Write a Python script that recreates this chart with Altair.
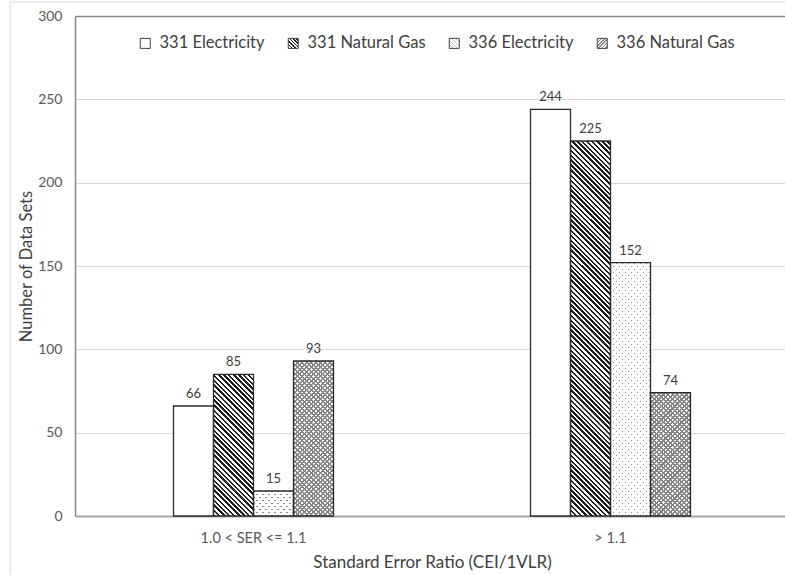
import json
import altair as alt
import pandas as pd

# ---------------- data ----------------
categories = ["1.0 < SER <= 1.1", "> 1.1"]
series = ["331 Electricity", "331 Natural Gas", "336 Electricity", "336 Natural Gas"]
elec_331 = [66, 244]
gas_331 = [85, 225]
elec_336 = [15, 152]
gas_336 = [93, 74]
y_ticks = [0, 50, 100, 150, 200, 250, 300]

series_values = dict(zip(series, [elec_331, gas_331, elec_336, gas_336]))

# ---------------- layout / style ----------------
FONT = "Lato"
TEXT = "#404040"
PLOT_LEFT, PLOT_TOP = 75, 16
PLOT_W_FULL = 714
VIEW_W = 785 - PLOT_LEFT
PLOT_H = 500
Y_MAX = 300
BAND = PLOT_W_FULL / len(categories)
BAR_W = 40
GROUP_W = BAR_W * len(series)
OFF_START = (BAND - GROUP_W) / 2

rows = []
for s in series:
    for c, v in zip(categories, series_values[s]):
        rows.append({"category": c, "series": s, "value": v})
df = pd.DataFrame(rows)


def stripe_spec(w, h, direction, period, frac, c_on, c_off):
    """Linear gradient (bbox units) drawing 45-degree stripes."""
    n = (w + h) / period
    s = (w + h) / (w * w + h * h)
    if direction == "back":  # lines like '\'
        x1, y1, x2, y2 = 0, 1, s * w, 1 - s * h
    else:  # lines like '/'
        x1, y1, x2, y2 = 0, 0, s * w, s * h
    stops = []
    k = 0
    while k / n < 1:
        a = k / n
        b = min((k + frac) / n, 1)
        c = min((k + 1) / n, 1)
        stops += [(a, c_on), (b, c_on), (b, c_off), (c, c_off)]
        k += 1
    return {
        "gradient": "linear",
        "x1": round(x1, 6), "y1": round(y1, 6), "x2": round(x2, 6), "y2": round(y2, 6),
        "stops": [{"offset": round(o, 5), "color": col} for o, col in stops],
    }


def to_grad(spec):
    return alt.LinearGradient(
        gradient="linear",
        x1=spec["x1"], y1=spec["y1"], x2=spec["x2"], y2=spec["y2"],
        stops=[alt.GradientStop(offset=st["offset"], color=st["color"]) for st in spec["stops"]],
    )


CLEAR = "rgba(255,255,255,0)"
HATCH = "#1e1e1e"
DOT = "#8a8a8a"
CROSS = "#858585"


def fills_for(s, w, h):
    """List of fill layers (bottom to top) for a bar of a given series."""
    if s == "331 Electricity":
        return ["#ffffff"]
    if s == "331 Natural Gas":
        return [to_grad(stripe_spec(w, h, "back", 5.0, 0.5, HATCH, "#ffffff"))]
    if s == "336 Electricity":
        return [
            to_grad(stripe_spec(w, h, "back", 6.0, 0.3, DOT, "#ffffff")),
            to_grad(stripe_spec(w, h, "fwd", 6.0, 0.3, CLEAR, "#ffffff")),
        ]
    return [
        to_grad(stripe_spec(w, h, "fwd", 4.6, 0.45, CROSS, "#ffffff")),
        to_grad(stripe_spec(w, h, "back", 4.6, 0.45, CROSS, CLEAR)),
    ]


# ---------------- encodings ----------------
x_enc = alt.X(
    "category:N",
    sort=categories,
    scale=alt.Scale(domain=categories, range=[0, PLOT_W_FULL], paddingInner=0, paddingOuter=0),
    axis=alt.Axis(
        title="Standard Error Ratio (CEI/1VLR)",
        labelAngle=0,
        ticks=False,
        labelPadding=15,
        labelFontSize=14.5,
        labelColor="#595959",
        domainColor="#a6a6a6",
        domainWidth=2,
        titleFontSize=17,
        titleFontWeight="normal",
        titleColor=TEXT,
        titlePadding=10,
        grid=False,
    ),
)
xo_enc = alt.XOffset(
    "series:N", sort=series,
    scale=alt.Scale(domain=series, range=[OFF_START, OFF_START + GROUP_W], paddingInner=0, paddingOuter=0),
)
y_enc = alt.Y(
    "value:Q",
    scale=alt.Scale(domain=[0, Y_MAX], nice=False),
    axis=alt.Axis(
        title="Number of Data Sets",
        values=y_ticks,
        ticks=False,
        labelPadding=13,
        labelFontSize=14,
        labelColor="#595959",
        domainColor="#868686",
        domainWidth=1.5,
        gridColor=alt.condition("datum.value === 300", alt.value("#868686"), alt.value("#d9d9d9")),
        gridWidth=alt.condition("datum.value === 300", alt.value(1.5), alt.value(1)),
        titleFontSize=16.5,
        titleFontWeight="normal",
        titleColor=TEXT,
        titlePadding=3,
    ),
)

layers = []

# outer chart-area border (decoration)
frame = pd.DataFrame({"k": [0]})
layers.append(
    alt.Chart(frame).mark_rule(color="#d9d9d9", strokeWidth=1).encode(
        x=alt.value(-65), y=alt.value(-14), y2=alt.value(700)
    )
)
layers.append(
    alt.Chart(frame).mark_rule(color="#d9d9d9", strokeWidth=1).encode(
        y=alt.value(-14), x=alt.value(-65), x2=alt.value(900)
    )
)

# patterned bars, one layer per bar (pattern geometry depends on bar size)
for s in series:
    for c, v in zip(categories, series_values[s]):
        h = v / Y_MAX * PLOT_H
        for fill in fills_for(s, BAR_W, h):
            layers.append(
                alt.Chart(df)
                .transform_filter((alt.datum.series == s) & (alt.datum.category == c))
                .mark_bar(fill=fill, strokeWidth=0)
                .encode(x=x_enc, xOffset=xo_enc, y=y_enc)
            )

# bar outlines
layers.append(
    alt.Chart(df)
    .mark_bar(fillOpacity=0, stroke="#2b2b2b", strokeWidth=1.3)
    .encode(x=x_enc, xOffset=xo_enc, y=y_enc)
)

# value labels
layers.append(
    alt.Chart(df)
    .mark_text(dy=-12, fontSize=13, color=TEXT, font=FONT)
    .encode(x=x_enc, xOffset=xo_enc, y=y_enc, text=alt.Text("value:Q"))
)

# legend (invisible layer carrying the fill scale)
SW = 10
legend_specs = [
    {"gradient": "linear", "x1": 0, "y1": 0, "x2": 1, "y2": 0,
     "stops": [{"offset": 0, "color": "#ffffff"}, {"offset": 1, "color": "#ffffff"}]},
    stripe_spec(SW, SW, "back", 3.4, 0.5, HATCH, "#ffffff"),
    stripe_spec(SW, SW, "back", 4.0, 0.25, "#c8c8c8", "#ffffff"),
    stripe_spec(SW, SW, "fwd", 3.4, 0.5, "#8a8a8a", "#ffffff"),
]
legend_range = [{"expr": json.dumps(sp)} for sp in legend_specs]

layers.append(
    alt.Chart(df)
    .mark_square(size=1, opacity=0)
    .encode(
        x=x_enc, xOffset=xo_enc, y=y_enc,
        fill=alt.Fill(
            "series:N",
            sort=series,
            scale=alt.Scale(domain=series, range=legend_range),
            legend=alt.Legend(
                title=None,
                orient="none",
                legendX=62,
                legendY=19,
                direction="horizontal",
                columns=4,
                columnPadding=20,
                symbolType="square",
                symbolSize=100,
                symbolOpacity=1,
                symbolStrokeColor="#404040",
                symbolStrokeWidth=1,
                labelFontSize=16.5,
                labelColor=TEXT,
                labelFont=FONT,
                labelOffset=6,
            ),
        ),
    )
)

chart = (
    alt.layer(*layers)
    .properties(
        width=VIEW_W,
        height=PLOT_H,
        autosize=alt.AutoSizeParams(type="none"),
        padding={"left": PLOT_LEFT, "top": PLOT_TOP, "right": 0, "bottom": 575 - PLOT_TOP - PLOT_H},
        background="#ffffff",
    )
    .configure(font=FONT)
    .configure_view(strokeWidth=0)
)

chart.save("out.html", embed_options={"renderer": "svg", "actions": False})
